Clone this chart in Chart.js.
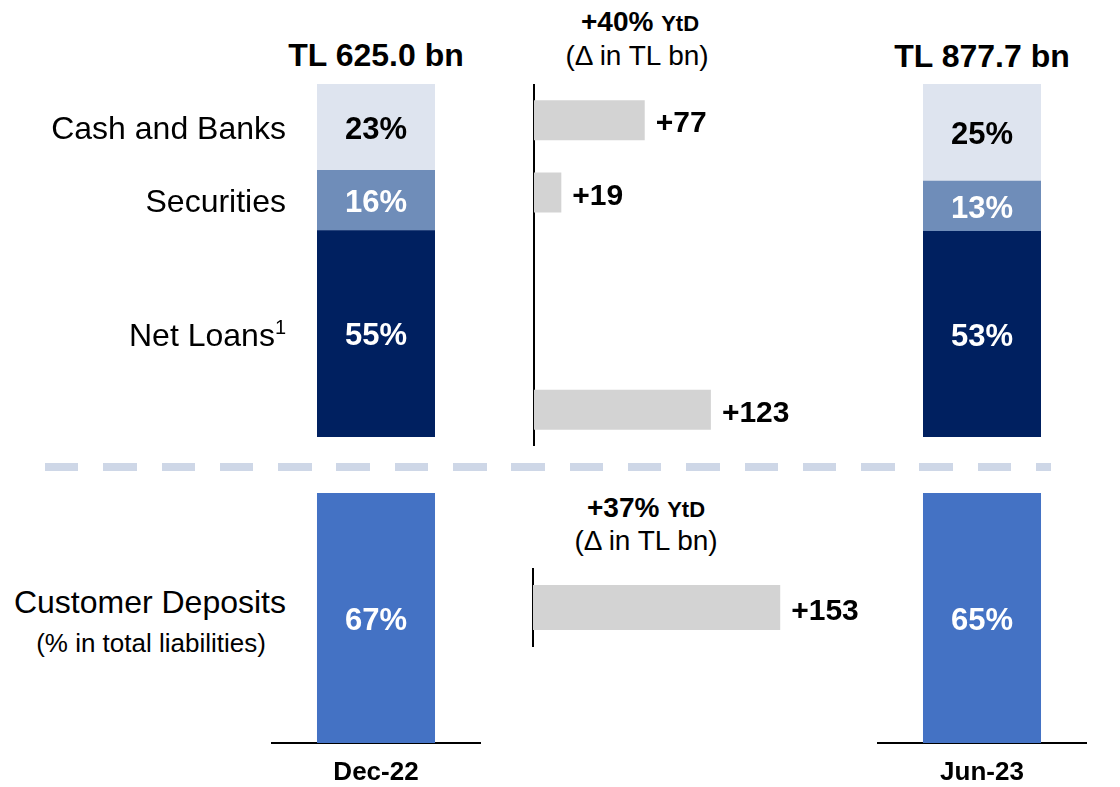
<!DOCTYPE html>
<html>
<head>
<meta charset="utf-8">
<title>Assets and deposits</title>
<script src="https://cdn.jsdelivr.net/npm/chart.js@4.4.0/dist/chart.umd.min.js"></script>
<style>
body { margin: 0; background: #fff; }
#wrap { position: relative; width: 1120px; height: 787px; overflow: hidden; font-family: "Liberation Sans", Arial, sans-serif; color: #000; }
canvas { position: absolute; }
.txt { position: absolute; white-space: nowrap; line-height: 1; transform: translate(-50%, -50%); }
.txt.r { transform: translate(-100%, -50%); }
.b { font-weight: bold; }
#dash { position: absolute; left: 45px; top: 463px; width: 1006px; height: 8px;
  background: repeating-linear-gradient(to right, #CED7E7 0 33.5px, transparent 33.5px 58.3px); }
</style>
</head>
<body>
<div id="wrap">
  <div class="txt b" id="totDec" style="left:376px;top:55px;font-size:32px"></div>
  <div class="txt b" id="totJun" style="left:982px;top:56px;font-size:32px"></div>
  <div class="txt b" id="ytdA" style="left:640px;top:22px;font-size:28px"></div>
  <div class="txt" style="left:637px;top:56px;font-size:28px">(Δ in TL bn)</div>

  <canvas id="decTop" width="435" height="353" style="left:0;top:84px"></canvas>
  <canvas id="junTop" width="118" height="353" style="left:923px;top:84px"></canvas>
  <canvas id="deltaTop" width="304" height="362" style="left:532px;top:84px"></canvas>

  <div id="dash"></div>

  <div class="txt b" id="ytdD" style="left:646px;top:508px;font-size:28px"></div>
  <div class="txt" style="left:646px;top:541px;font-size:28px">(Δ in TL bn)</div>
  <div class="txt r" style="left:286px;top:602px;font-size:32px">Customer Deposits</div>
  <div class="txt" style="left:151px;top:643px;font-size:26px">(% in total liabilities)</div>

  <canvas id="decDep" width="210" height="294" style="left:271px;top:493px"></canvas>
  <canvas id="junDep" width="210" height="294" style="left:877px;top:493px"></canvas>
  <canvas id="deltaDep" width="349" height="79" style="left:531px;top:568px"></canvas>
</div>
<script>
// balance sheet mix, Dec-22 vs Jun-23
var periods = ['Dec-22', 'Jun-23'];
var totalAssets = ['TL 625.0 bn', 'TL 877.7 bn'];
var assetNames = ['Net Loans¹', 'Securities', 'Cash and Banks'];
var sharesDec22 = [55, 16, 23];
var sharesJun23 = [53, 13, 25];
var deltaRows = ['Cash and Banks', 'Securities', '', '', 'Net Loans'];
var deltaAssets = [77, 19, null, null, 123];
var depositShare = [67, 65];
var deltaDeposits = [153];
var ytdAssets = '+40%';
var ytdDeposits = '+37%';

var assetColors = ['#002060', '#6F8DB9', '#DEE4EF'];
var textColors = ['#FFFFFF', '#FFFFFF', '#000000'];
var FONT = '"Liberation Sans", Arial, sans-serif';

document.getElementById('totDec').textContent = totalAssets[0];
document.getElementById('totJun').textContent = totalAssets[1];
document.getElementById('ytdA').innerHTML = ytdAssets + ' <span style="font-size:22px">YtD</span>';
document.getElementById('ytdD').innerHTML = ytdDeposits + ' <span style="font-size:22px">YtD</span>';

// % inside each segment, and optionally the row name on the left
var segLabels = {
  id: 'segLabels',
  afterDatasetsDraw: function(chart, args, opts) {
    var ctx = chart.ctx;
    ctx.save();
    ctx.textBaseline = 'middle';
    chart.data.datasets.forEach(function(ds, i) {
      var bar = chart.getDatasetMeta(i).data[0];
      var y = (bar.y + bar.base) / 2 + 3;
      ctx.textAlign = 'center';
      ctx.font = 'bold 31px ' + FONT;
      ctx.fillStyle = ds.labelColor;
      ctx.fillText(ds.data[0] + '%', bar.x, y);
      if (opts.names) {
        var x = chart.chartArea.left - 31;
        var name = ds.label;
        ctx.textAlign = 'right';
        ctx.fillStyle = '#000';
        if (name.slice(-1) == '¹') {
          // footnote mark drawn as a raised small "1"
          ctx.font = '20px ' + FONT;
          ctx.fillText('1', x, y - 8);
          x -= ctx.measureText('1').width;
          name = name.slice(0, -1);
        }
        ctx.font = '32px ' + FONT;
        ctx.fillText(name, x, y);
      }
    });
    ctx.restore();
  }
};

// "+77" etc right of the grey bars
var endLabels = {
  id: 'endLabels',
  afterDatasetsDraw: function(chart) {
    var ctx = chart.ctx;
    var vals = chart.data.datasets[0].data;
    ctx.save();
    ctx.font = 'bold 30px ' + FONT;
    ctx.fillStyle = '#000';
    ctx.textAlign = 'left';
    ctx.textBaseline = 'middle';
    chart.getDatasetMeta(0).data.forEach(function(bar, i) {
      if (vals[i] == null) return;
      ctx.fillText('+' + vals[i], bar.x + 11, bar.y + 4);
    });
    ctx.restore();
  }
};

function stackChart(id, period, shares, padLeft, names) {
  var total = 0;
  shares.forEach(function(v) { total += v; });
  return new Chart(document.getElementById(id), {
    type: 'bar',
    data: {
      labels: [period],
      datasets: assetNames.map(function(name, i) {
        return { label: name, data: [shares[i]], backgroundColor: assetColors[i],
                 labelColor: textColors[i], barPercentage: 1, categoryPercentage: 1 };
      })
    },
    options: {
      responsive: false, animation: false, devicePixelRatio: 1,
      layout: { padding: { left: padLeft, right: 0, top: 0, bottom: 0 } },
      plugins: { legend: { display: false }, tooltip: { enabled: false }, segLabels: { names: names } },
      scales: {
        x: { stacked: true, display: false },
        y: { stacked: true, display: false, min: 0, max: total }
      }
    },
    plugins: [segLabels]
  });
}

function depositChart(id, i) {
  return new Chart(document.getElementById(id), {
    type: 'bar',
    data: {
      labels: [periods[i]],
      datasets: [{ label: 'Customer Deposits', data: [depositShare[i]], backgroundColor: '#4472C4',
                   labelColor: '#FFFFFF', barPercentage: 0.562, categoryPercentage: 1 }]
    },
    options: {
      responsive: false, animation: false, devicePixelRatio: 1,
      layout: { padding: 0 },
      plugins: { legend: { display: false }, tooltip: { enabled: false }, segLabels: { names: false } },
      scales: {
        x: {
          grid: { display: false, drawTicks: false },
          border: { display: true, color: '#000', width: 2 },
          ticks: { color: '#000', padding: 14, font: { family: FONT, size: 26, weight: 'bold' } },
          afterFit: function(s) { s.height = 44; }
        },
        y: { display: false, min: 0, max: depositShare[i] }
      }
    },
    plugins: [segLabels]
  });
}

function deltaChart(id, rows, vals, max, thick, padRight) {
  return new Chart(document.getElementById(id), {
    type: 'bar',
    data: {
      labels: rows,
      datasets: [{ data: vals, backgroundColor: '#D3D3D3', barPercentage: thick, categoryPercentage: 1 }]
    },
    options: {
      indexAxis: 'y',
      responsive: false, animation: false, devicePixelRatio: 1,
      layout: { padding: { left: 2, right: padRight, top: 0, bottom: 0 } },
      plugins: { legend: { display: false }, tooltip: { enabled: false } },
      scales: {
        x: { display: false, min: 0, max: max },
        y: {
          grid: { display: false, drawTicks: false },
          ticks: { display: false },
          border: { display: true, color: '#000', width: 2 }
        }
      }
    },
    plugins: [endLabels]
  });
}

stackChart('decTop', periods[0], sharesDec22, 317, true);
stackChart('junTop', periods[1], sharesJun23, 0, false);
deltaChart('deltaTop', deltaRows, deltaAssets, 210, 0.552, 0);
depositChart('decDep', 0);
depositChart('junDep', 1);
deltaChart('deltaDep', ['Customer Deposits'], deltaDeposits, 190, 0.57, 40);
</script>
</body>
</html>
